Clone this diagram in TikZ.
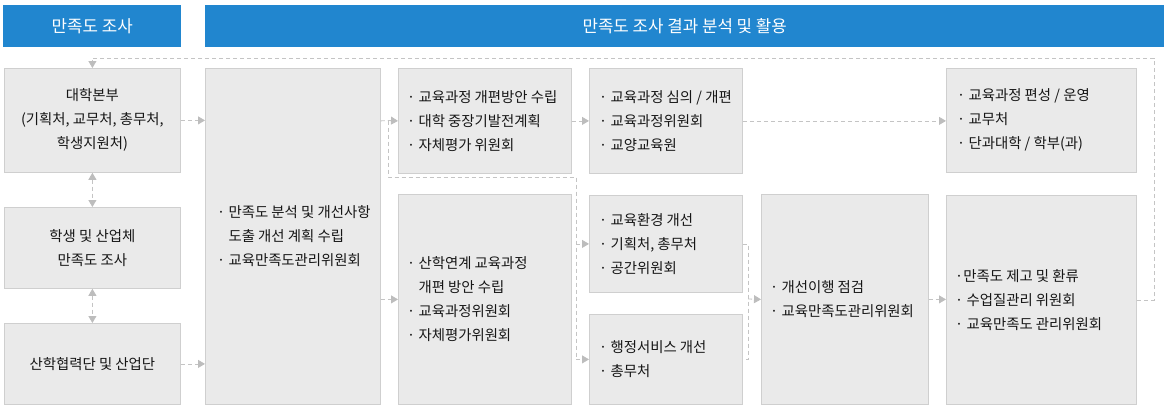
\documentclass[tikz,border=0pt]{standalone}
\usepackage{fontspec}
\setmainfont{Noto Sans CJK KR}
\usetikzlibrary{arrows.meta}
\definecolor{hdblue}{HTML}{2186CF}
\definecolor{boxfill}{HTML}{EAEAEA}
\definecolor{boxline}{HTML}{CFCFCF}
\definecolor{dashcol}{HTML}{C4C4C4}
\definecolor{tipcol}{HTML}{BDBDBD}
\definecolor{txtcol}{HTML}{161616}
\begin{document}
\begin{tikzpicture}[x=1pt,y=1pt,
  bx/.style={draw=boxline,fill=boxfill,line width=0.8pt,anchor=north west,inner sep=0pt},
  hd/.style={fill=hdblue,anchor=north west,inner sep=0pt,text=white,font=\fontsize{16.8}{19}\selectfont},
  tx/.style={align=left,inner sep=0pt,text=txtcol,font=\fontsize{14.4}{24}\selectfont},
  dl/.style={draw=dashcol,line width=0.8pt,dash pattern=on 4pt off 3pt},
  ar/.style={dl,-{Triangle[length=7pt,width=8pt,color=tipcol]}},
  dar/.style={dl,{Triangle[length=7pt,width=8pt,color=tipcol]}-{Triangle[length=7pt,width=8pt,color=tipcol]}}]
\useasboundingbox (0,0) rectangle (1169,-416);
% headers
\node[hd,minimum width=178pt,minimum height=42pt] (hda) at (3,-5) {만족도 조사};
\node[hd,minimum width=959pt,minimum height=42pt] (hdb) at (205,-5) {만족도 조사 결과 분석 및 활용};
% survey boxes
\foreach \nm/\bx/\by/\bh/\txt in {a/4/68/104/{대학본부\\(기획처, 교무처, 총무처,\\학생지원처)},
  b/4/207/81/{학생 및 산업체\\만족도 조사},c/4/323/81/{산학협력단 및 산업단}}{
  \node[bx,minimum width=176pt,minimum height=\bh pt] (\nm) at (\bx,-\by) {};
  \node[tx,align=center] (\nm t) at (\nm.center) {\txt};
}
% result boxes
\foreach \nm/\bx/\by/\bw/\bh/\ins/\txt in {
  d/205/68/175/336/12/{· 만족도 분석 및 개선사항\\\hphantom{· }도출 개선 계획 수립\\· 교육만족도관리위원회},
  e/398/68/173/105/9/{· 교육과정 개편방안 수립\\· 대학 중장기발전계획\\· 자체평가 위원회},
  f/398/194/173/210/9/{· 산학연계 교육과정\\\hphantom{· }개편 방안 수립\\· 교육과정위원회\\· 자체평가위원회},
  g/589/68/153/105/10/{· 교육과정 심의 / 개편\\· 교육과정위원회\\· 교양교육원},
  h/589/195/153/97/10/{· 교육환경 개선\\· 기획처, 총무처\\· 공간위원회},
  i/589/314/153/90/10/{· 행정서비스 개선\\· 총무처},
  j/761/194/167/210/9/{· 개선이행 점검\\· 교육만족도관리위원회},
  k/946/68/190/104/11/{· 교육과정 편성 / 운영\\· 교무처\\· 단과대학 / 학부(과)},
  l/946/195/190/209/9/{·만족도 제고 및 환류\\· 수업질관리 위원회\\· 교육만족도 관리위원회}}{
  \node[bx,minimum width=\bw pt,minimum height=\bh pt] (\nm) at (\bx,-\by) {};
  \node[tx,anchor=west] (\nm t) at ([xshift=\ins pt]\nm.west) {\txt};
}
% connectors
\coordinate (fb) at (1154,-58);
\draw[ar] (l.east) -| (fb) -| (a.north);
\draw[dar] (a.south) -- (b.north);
\draw[dar] (b.south) -- (c.north);
\draw[ar] (a.east) -- (a.east -| d.west);
\draw[ar] (c.east) -- (c.east -| d.west);
\coordinate (dj) at (388,-120.5);
\draw[dl] (d.east |- e.west) -- (dj);
\draw[ar] (dj) -- (e.west);
\coordinate (sp) at (576,-177);
\draw[dl] (dj) |- (sp) -- (sp |- i.west);
\draw[ar] (sp |- h.west) -- (h.west);
\draw[ar] (sp |- i.west) -- (i.west);
\draw[ar] (d.east |- f.west) -- (f.west);
\draw[ar] (e.east) -- (g.west);
\draw[ar] (g.east) -- (g.east -| k.west);
\coordinate (mg) at (748,-299);
\draw[dl] (h.east) -| (mg) |- (i.east);
\draw[ar] (mg) -- (j.west);
\draw[ar] (j.east) -- (j.east -| l.west);
\end{tikzpicture}
\end{document}
